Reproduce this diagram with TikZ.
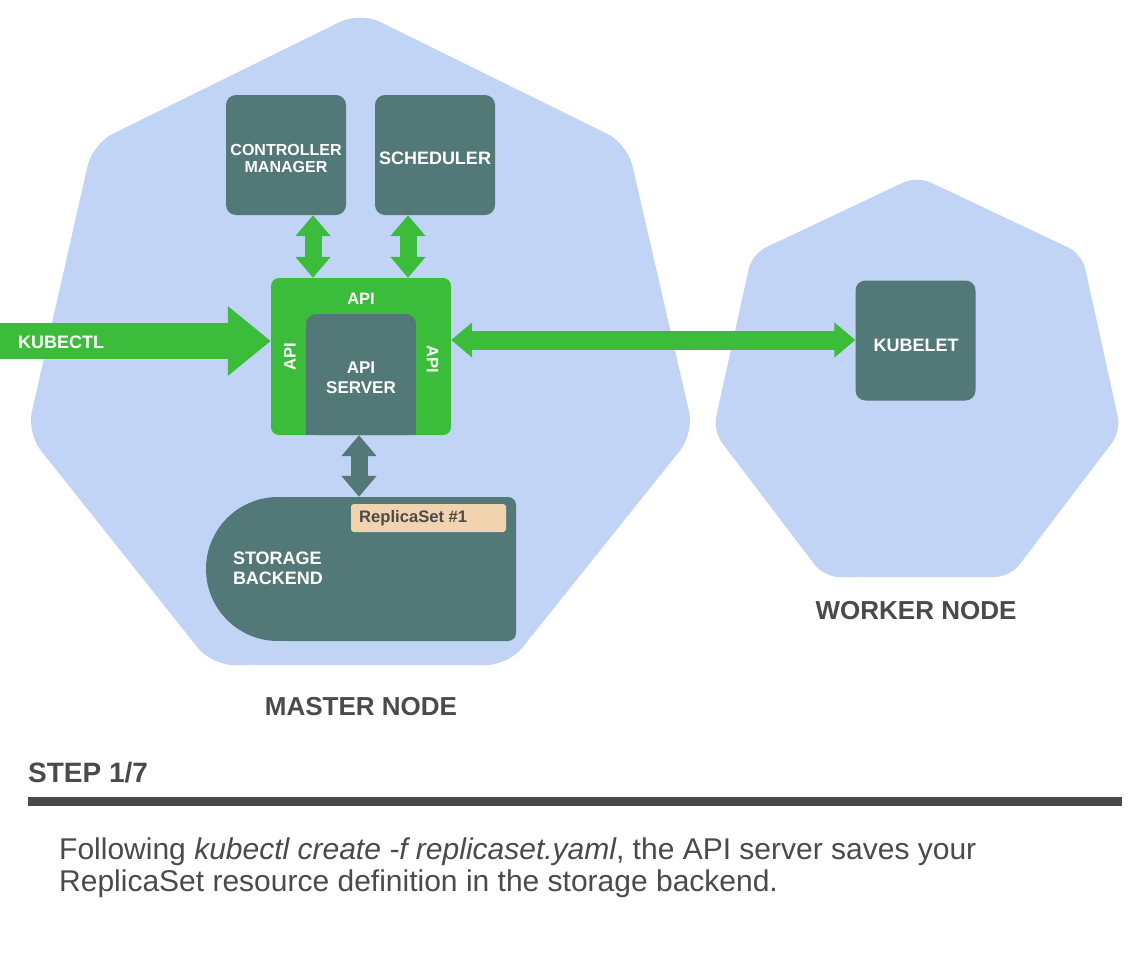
\documentclass[tikz,border=0pt]{standalone}
\usepackage{fontspec}
\setmainfont{Liberation Sans}
\usetikzlibrary{arrows.meta,calc}
\definecolor{nodebg}{HTML}{C2D4F5}
\definecolor{boxc}{HTML}{537878}
\definecolor{grn}{HTML}{3BBD3B}
\definecolor{peach}{HTML}{F2D3B0}
\definecolor{txt}{HTML}{4A4A4A}
\begin{document}
\begin{tikzpicture}[x=1pt,y=-1pt,
  comp/.style={fill=boxc, rounded corners=10pt, minimum width=120pt, minimum height=120pt, inner sep=0pt},
  lbl/.style={text=white, font=\bfseries\fontsize{16.5}{20}\selectfont, inner sep=0pt, align=center},
  title/.style={text=txt, font=\bfseries\fontsize{26}{30}\selectfont, inner sep=0pt},
  desc/.style={anchor=base west, inner sep=0pt, text=txt, font=\fontsize{30}{30}\selectfont},
  garrow/.style={grn, line width=17pt, {Triangle[length=21pt,width=34pt]}-{Triangle[length=21pt,width=34pt]}},
  darrow/.style={boxc, line width=17pt, {Triangle[length=21pt,width=34pt]}-{Triangle[length=21pt,width=34pt]}},
  warrow/.style={grn, line width=19pt, {Triangle[length=21pt,width=34pt]}-{Triangle[length=21pt,width=34pt]}},
  karrow/.style={grn, line width=36pt, -{Triangle[length=43pt,width=67pt]}},
]
\useasboundingbox (0,0) rectangle (1134,964);
\fill[white] (0,0) rectangle (1134,964);

% master heptagon
\fill[nodebg, rounded corners=22pt] (360,12) -- (627.4,143.8) -- (694,433.1) -- (508.4,665.1) -- (211.6,665.1) -- (27,433.1) -- (92.6,143.8) -- cycle;
% worker heptagon
\fill[nodebg, rounded corners=15pt] (917,176) -- (1082,254) -- (1121,431) -- (1010,577) -- (824,577) -- (713,431) -- (752,254) -- cycle;

% components
\node[comp] (cm) at (286,155) {};
\node[lbl, font=\bfseries\fontsize{16}{17}\selectfont] (cmt) at (286,158) {CONTROLLER\\MANAGER};
\node[comp] (sch) at (435,155) {};
\node[lbl, font=\bfseries\fontsize{18}{20}\selectfont] (scht) at (435,158) {SCHEDULER};
\node[fill=grn, rounded corners=8pt, minimum width=180pt, minimum height=157pt, inner sep=0pt] (api) at (361,356.5) {};
\fill[boxc, rounded corners=10pt] (306,314) rectangle (416,435);
\fill[boxc] (306,400) rectangle (416,435);
\node[minimum width=110pt, minimum height=121pt, inner sep=0pt] (apis) at (361,374.5) {};
\node[lbl, font=\bfseries\fontsize{17}{20}\selectfont] (apist) at (361,378) {API\\SERVER};
\node[lbl] (apit) at (361,298.5) {API};
\node[lbl, rotate=90] (apil) at (290,357) {API};
\node[lbl, rotate=-90] (apir) at (432.5,359) {API};
\node[comp] (kub) at (915.5,340.5) {};
\node[lbl, font=\bfseries\fontsize{18}{20}\selectfont] (kubt) at (916,345) {KUBELET};

% storage backend
\fill[boxc] (278,569) circle (72);
\fill[boxc, rounded corners=8pt] (278,497) rectangle (516,641);
\node[minimum width=310pt, minimum height=144pt, inner sep=0pt] (sb) at (361,569) {};
\node[lbl, align=left, font=\bfseries\fontsize{18}{20}\selectfont] (sbt) at (278,568) {STORAGE\\BACKEND};
\node[fill=peach, rounded corners=3pt, minimum width=155pt, minimum height=28pt, inner sep=0pt] (rs) at (428.5,518) {};
\node[anchor=west, inner sep=0pt, text=txt, font=\bfseries\fontsize{16.6}{18}\selectfont] (rst) at (359,518) {ReplicaSet \#1};

% connectors
\coordinate (c1) at ($(cm.south)+(27,0)$);
\coordinate (c2) at ($(sch.south)+(-27,0)$);
\draw[garrow] (c1) -- (c1 |- api.north);
\draw[garrow] (c2) -- (c2 |- api.north);
\coordinate (kin) at (0,341);
\draw[karrow] (kin) -- (kin -| api.west);
\node[lbl, anchor=west, font=\bfseries\fontsize{18}{20}\selectfont] (kubectl) at (18,342) {KUBECTL};
\coordinate (w1) at (api.east |- 0,340);
\draw[warrow] (w1) -- (w1 -| kub.west);
\draw[darrow] ($(apis.south)+(-2,0)$) -- ($(apis.south |- sb.north)+(-2,0)$);

% titles
\node[title] (mn) at (361,707) {MASTER NODE};
\node[title] (wn) at (916,611) {WORKER NODE};
\node[title, anchor=base west, font=\bfseries\fontsize{28}{30}\selectfont] (step) at (28,782.7) {STEP 1/7};
\draw[txt, line width=9pt] (28,801.5) -- (1122,801.5);
\node[desc] (desc1) at (59,859.5) {Following \textit{kubectl create -f replicaset.yaml}, the API server saves your};
\node[desc] (desc2) at (59,891) {ReplicaSet resource definition in the storage backend.};
\end{tikzpicture}
\end{document}
